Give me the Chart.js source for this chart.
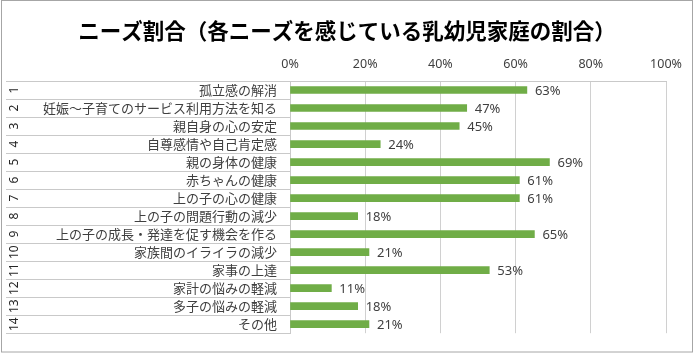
<!DOCTYPE html>
<html lang="ja">
<head>
<meta charset="utf-8">
<title>ニーズ割合</title>
<script src="https://cdn.jsdelivr.net/npm/chart.js@4.4.1/dist/chart.umd.min.js"></script>
<style>
    html, body { margin: 0; padding: 0; background: #ffffff; }
    #wrap { position: relative; width: 695px; height: 354px; }
</style>
</head>
<body>
<div id="wrap"><canvas id="needsChart" width="695" height="354"></canvas></div>
<script>
// Chart data
const chartTitle = 'ニーズ割合（各ニーズを感じている乳幼児家庭の割合）';
const categoryNumbers = ['1', '2', '3', '4', '5', '6', '7', '8', '9', '10', '11', '12', '13', '14'];
const categories = [
    '孤立感の解消',
    '妊娠～子育てのサービス利用方法を知る',
    '親自身の心の安定',
    '自尊感情や自己肯定感',
    '親の身体の健康',
    '赤ちゃんの健康',
    '上の子の心の健康',
    '上の子の問題行動の減少',
    '上の子の成長・発達を促す機会を作る',
    '家族間のイライラの減少',
    '家事の上達',
    '家計の悩みの軽減',
    '多子の悩みの軽減',
    'その他'
];
const shareValues = [63, 47, 45, 24, 69, 61, 61, 18, 65, 21, 53, 11, 18, 21];
const tickValues = [0, 20, 40, 60, 80, 100];

const jpFont = "'Noto Sans CJK JP', 'Noto Sans', sans-serif";
const numFont = "'Noto Sans', 'Liberation Sans', sans-serif";
const textColor = '#404040';

// Frame, title, row separators, rotated numbers and value labels
const decorations = {
    id: 'decorations',
    beforeDraw(chart) {
        const ctx = chart.ctx;
        ctx.save();
        ctx.fillStyle = '#ffffff';
        ctx.fillRect(0, 0, chart.width, chart.height);
        ctx.restore();
    },
    afterDatasetsDraw(chart) {
        const ctx = chart.ctx;
        const area = chart.chartArea;
        const yScale = chart.scales.y;
        const meta = chart.getDatasetMeta(0);

        ctx.save();
        // row separators in the label area
        ctx.strokeStyle = '#c9c9c9';
        ctx.lineWidth = 1;
        for (let i = 0; i <= categories.length; i++) {
            const y = Math.round(yScale.getPixelForValue(i - 0.5)) + 0.5;
            ctx.beginPath();
            ctx.moveTo(6, y);
            ctx.lineTo(i === 0 ? area.right : area.left, y);
            ctx.stroke();
        }

        // rotated category numbers
        ctx.fillStyle = '#262626';
        ctx.font = '12px ' + numFont;
        ctx.textAlign = 'center';
        ctx.textBaseline = 'middle';
        categoryNumbers.forEach(function(num, i) {
            const y = yScale.getPixelForValue(i);
            ctx.save();
            ctx.translate(15, y);
            ctx.rotate(-Math.PI / 2);
            ctx.fillText(num, 0, 0);
            ctx.restore();
        });

        // value labels
        ctx.fillStyle = textColor;
        ctx.font = '13px ' + numFont;
        ctx.textAlign = 'left';
        meta.data.forEach(function(bar, i) {
            ctx.fillText(shareValues[i] + '%', bar.x + 8, bar.y + 1);
        });

        // title
        ctx.font = 'bold 21.5px ' + jpFont;
        ctx.textAlign = 'center';
        ctx.fillStyle = '#000000';
        ctx.fillText(chartTitle, 347, 31);

        // outer frame
        ctx.strokeStyle = '#a6a6a6';
        ctx.strokeRect(1.5, 0.5, 691, 351.5);
        ctx.restore();
    }
};

new Chart(document.getElementById('needsChart'), {
    type: 'bar',
    data: {
        labels: categories,
        datasets: [{
            label: '割合',
            data: shareValues,
            backgroundColor: '#70AD47',
            borderWidth: 0,
            barThickness: 7
        }]
    },
    options: {
        indexAxis: 'y',
        responsive: false,
        animation: false,
        layout: {
            padding: { top: 42, right: 29, bottom: 16, left: 0 }
        },
        plugins: {
            legend: { display: false },
            title: { display: false },
            tooltip: { enabled: false }
        },
        scales: {
            x: {
                position: 'top',
                min: 0,
                max: 100,
                afterBuildTicks: function(scale) {
                    scale.ticks = tickValues.map(function(v) { return { value: v }; });
                },
                afterFit: function(scale) {
                    scale.height = 39;
                },
                grid: {
                    color: '#d0d0d0',
                    lineWidth: 1,
                    drawTicks: false
                },
                border: { display: true, color: '#c9c9c9' },
                ticks: {
                    padding: 9,
                    color: textColor,
                    font: { family: numFont, size: 12.5 },
                    callback: function(value) { return value + '%'; }
                }
            },
            y: {
                afterFit: function(scale) {
                    scale.width = 290;
                },
                grid: { display: false, drawTicks: false },
                border: { display: true, color: '#c9c9c9' },
                ticks: {
                    padding: 13,
                    autoSkip: false,
                    color: textColor,
                    font: { family: jpFont, size: 13 }
                }
            }
        }
    },
    plugins: [decorations]
});
</script>
</body>
</html>
